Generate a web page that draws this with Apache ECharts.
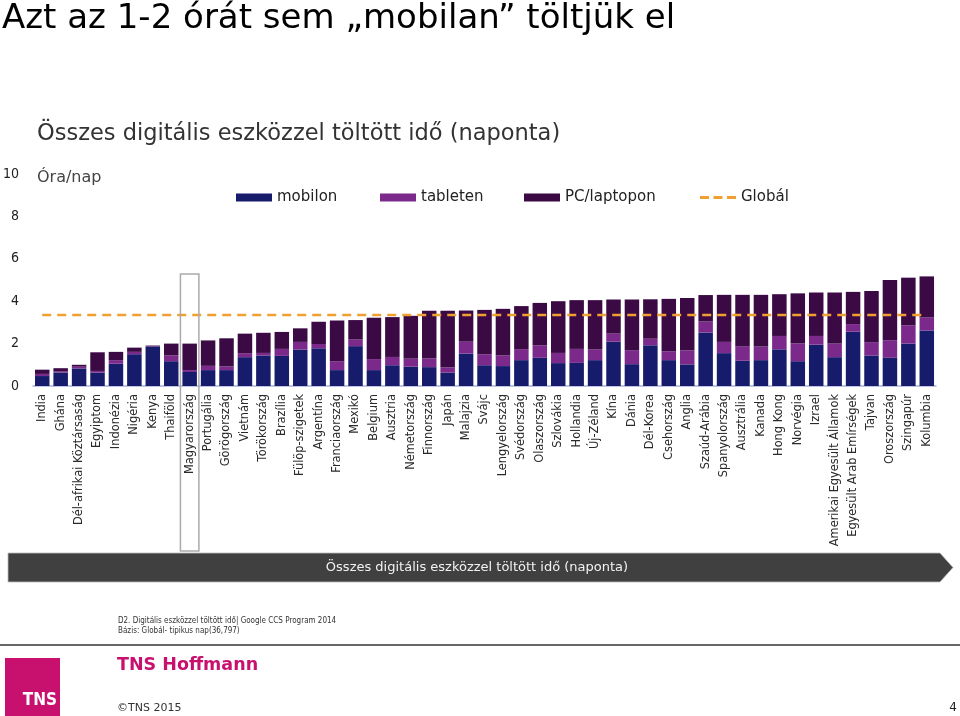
<!DOCTYPE html>
<html>
<head>
<meta charset="utf-8">
<script src="https://cdn.jsdelivr.net/npm/echarts@6/dist/echarts.min.js"></script>
<style>
html,body{margin:0;padding:0;background:#fff;}
#c{width:960px;height:716px;}
</style>
</head>
<body>
<div id="c"></div>
<script>
var countries = ["India","Ghána","Dél-afrikai Köztársaság","Egyiptom","Indonézia","Nigéria","Kenya","Thaiföld","Magyarország","Portugália","Görögország","Vietnám","Törökország","Brazília","Fülöp-szigetek","Argentína","Franciaország","Mexikó","Belgium","Ausztria","Németország","Finnország","Japán","Malajzia","Svájc","Lengyelország","Svédország","Olaszország","Szlovákia","Hollandia","Új-Zéland","Kína","Dánia","Dél-Korea","Csehország","Anglia","Szaúd-Arábia","Spanyolország","Ausztrália","Kanada","Hong Kong","Norvégia","Izrael","Amerikai Egyesült Államok","Egyesült Arab Emírségek","Tajvan","Oroszország","Szingapúr","Kolumbia"];
var mobilon = [0.47,0.63,0.83,0.63,1.05,1.50,1.87,1.17,0.66,0.75,0.75,1.36,1.44,1.42,1.72,1.78,0.75,1.88,0.75,0.98,0.91,0.89,0.63,1.53,0.98,0.94,1.22,1.33,1.08,1.09,1.22,2.09,1.03,1.92,1.22,1.02,2.52,1.55,1.19,1.22,1.73,1.17,1.95,1.36,2.56,1.44,1.33,2.00,2.62];
var tableten = [0.10,0.05,0.08,0.08,0.17,0.11,0.02,0.27,0.09,0.20,0.17,0.19,0.12,0.33,0.36,0.20,0.42,0.31,0.52,0.39,0.38,0.41,0.25,0.56,0.52,0.50,0.52,0.59,0.48,0.66,0.50,0.38,0.66,0.31,0.42,0.66,0.52,0.53,0.69,0.64,0.63,0.84,0.41,0.64,0.36,0.63,0.83,0.86,0.61];
var pcLaptop = [0.20,0.16,0.09,0.88,0.39,0.20,0.02,0.56,1.25,1.20,1.33,0.92,0.95,0.80,0.64,1.05,1.92,0.92,1.95,1.88,2.02,2.25,2.67,1.47,2.09,2.20,2.03,2.00,2.44,2.30,2.33,1.61,2.39,1.86,2.47,2.47,1.25,2.22,2.42,2.44,1.97,2.36,2.05,2.41,1.52,2.41,2.84,2.25,1.94];
var globalAvg = 3.35;
var globalLine = countries.map(function(){ return globalAvg; });
var yTicks = [0,2,4,6,8,10];
var highlighted = "Magyarország";

var COL_MOB = "#161b6c", COL_TAB = "#7b2a8b", COL_PC = "#3b0a45", COL_GLOB = "#f0a030";
var FONT = "DejaVu Sans";
var FONTC = "DejaVu Sans Condensed";

var chart = echarts.init(document.getElementById('c'), null, {renderer:'canvas'});
function lg(name, left, icon, h){
  return {
    data:[{name:name, icon:icon}], left:left, top:190, padding:0,
    itemWidth:36, itemHeight:h, itemGap:0, selectedMode:false,
    textStyle:{fontFamily:FONT, fontSize:15, color:'#222'}
  };
}
var dashIcon = 'path://M0,0H9V3H0Z M13.5,0H22.5V3H13.5Z M27,0H36V3H27Z';
var option = {
  animation:false,
  backgroundColor:'#fff',
  textStyle:{fontFamily:FONT},
  legend:[lg('mobilon',236,'rect',8), lg('tableten',380,'rect',8), lg('PC/laptopon',524,'rect',8), lg('Globál',700,dashIcon,3)],
  grid:{left:31, right:24, top:174, bottom:330, containLabel:false},
  xAxis:{
    type:'category', data:countries,
    axisLine:{show:true, lineStyle:{color:'#aab3d6', width:1.5}},
    axisTick:{show:false},
    axisLabel:{interval:0, rotate:90, margin:8, fontFamily:FONT, fontSize:11.4, color:'#2a2a2a'}
  },
  yAxis:{
    type:'value', min:yTicks[0], max:yTicks[yTicks.length-1], interval:2,
    axisLine:{show:false}, axisTick:{show:false}, splitLine:{show:false},
    axisLabel:{fontFamily:FONTC, fontSize:14, color:'#222', margin:14}
  },
  series:[
    {name:'mobilon', type:'bar', stack:'t', data:mobilon, barWidth:14.5, itemStyle:{color:COL_MOB}},
    {name:'tableten', type:'bar', stack:'t', data:tableten, barWidth:14.5, itemStyle:{color:COL_TAB}},
    {name:'PC/laptopon', type:'bar', stack:'t', data:pcLaptop, barWidth:14.5, itemStyle:{color:COL_PC}},
    {name:'Globál', type:'line', data:globalLine, symbol:'none', z:5,
     lineStyle:{color:COL_GLOB, width:2.5, type:[9,6]}, itemStyle:{color:COL_GLOB}}
  ]
};
chart.setOption(option);

var hx = chart.convertToPixel({xAxisIndex:0}, highlighted);
var band = 905/countries.length;

chart.setOption({
  graphic:[
    {type:'text', left:2, top:2, style:{text:'Azt az 1-2 órát sem „mobilan” töltjük el', font:'34px "DejaVu Sans"', fill:'#000'}},
    {type:'text', left:37, top:123, style:{text:'Összes digitális eszközzel töltött idő (naponta)', font:'22.5px "DejaVu Sans"', fill:'#333'}},
    {type:'text', left:37, top:170, style:{text:'Óra/nap', font:'16px "DejaVu Sans"', fill:'#444'}},
    {type:'rect', shape:{x:hx-band/2, y:274, width:band, height:277}, style:{fill:'none', stroke:'#aaaaaa', lineWidth:1.5}, z:100},
    {type:'polygon', shape:{points:[[8,553],[940,553],[953,567.5],[940,582],[8,582]]}, style:{fill:'#404040', stroke:'#bbbbbb', lineWidth:0.8}},
    {type:'text', x:477, y:568, style:{text:'Összes digitális eszközzel töltött idő (naponta)', font:'13px "DejaVu Sans"', fill:'#f2f2f2', textAlign:'center', textVerticalAlign:'middle'}},
    {type:'text', left:118, top:616, style:{text:'D2. Digitális eszközzel töltött idő| Google CCS Program 2014\nBázis: Globál- tipikus nap(36,797)', font:'8px "DejaVu Sans Condensed"', fill:'#333', lineHeight:10}},
    {type:'line', shape:{x1:0, y1:645, x2:960, y2:645}, style:{stroke:'#666', lineWidth:2}},
    {type:'rect', shape:{x:5, y:658, width:55, height:58}, style:{fill:'#c8106e'}},
    {type:'text', x:57, y:701, style:{text:'TNS', font:'bold 17px "DejaVu Sans Condensed"', fill:'#fff', textAlign:'right', textVerticalAlign:'middle'}},
    {type:'text', left:117, top:656, style:{text:'TNS Hoffmann', font:'bold 17.5px "DejaVu Sans"', fill:'#c8106e'}},
    {type:'text', left:117, top:703, style:{text:'©TNS 2015', font:'11px "DejaVu Sans"', fill:'#333'}},
    {type:'text', x:957, y:708, style:{text:'4', font:'12px "DejaVu Sans"', fill:'#222', textAlign:'right', textVerticalAlign:'middle'}}
  ]
});
</script>
</body>
</html>
